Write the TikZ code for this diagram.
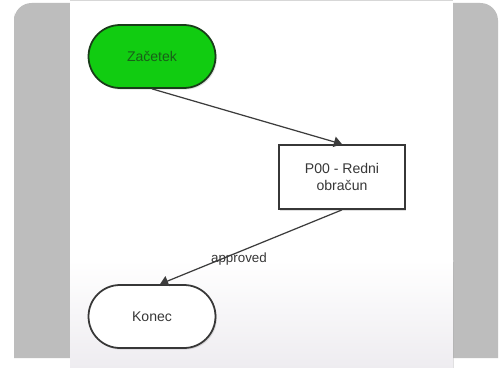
\documentclass[tikz,border=0pt]{standalone}
\usepackage{fontspec}
\setmainfont{Liberation Sans}
\usetikzlibrary{shapes.misc,arrows.meta,shadows}
\definecolor{framegrey}{RGB}{189,189,189}
\definecolor{startgreen}{RGB}{17,204,17}
\definecolor{startline}{RGB}{25,60,25}
\definecolor{starttext}{RGB}{25,95,25}
\definecolor{inkgrey}{RGB}{55,55,55}
\definecolor{lineink}{RGB}{60,60,60}
\definecolor{fadegrey}{RGB}{238,236,240}
\definecolor{edgegrey}{RGB}{215,215,215}
\begin{document}
\begin{tikzpicture}[x=0.02cm,y=-0.02cm,
  shade/.style={drop shadow={shadow xshift=0.8pt,shadow yshift=-0.9pt,opacity=0.25}},
  terminal/.style={rounded rectangle,draw=inkgrey,line width=1pt,minimum width=2.54cm,minimum height=1.26cm,inner sep=0pt,font=\fontsize{8}{9.5}\selectfont,text=inkgrey,shade},
  taskbox/.style={rectangle,draw=inkgrey,line width=1pt,fill=white,minimum width=2.52cm,minimum height=1.28cm,inner sep=0pt,align=center,font=\fontsize{8}{9.5}\selectfont,text=inkgrey,shade},
  flow/.style={draw=lineink,line width=0.7pt,-{Triangle[length=4.6pt,width=6pt]}},
  flowlabel/.style={font=\fontsize{7.6}{9}\selectfont,text=inkgrey,inner sep=0pt}]
\useasboundingbox (0,0) rectangle (500,368);
\fill[white] (0,0) rectangle (500,368);
\fill[framegrey] (14,358) -- (14,13) [rounded corners=10] -- (14,3) -- (498,3) [sharp corners] -- (498,358) -- cycle;
\fill[white] (70,0) rectangle (453,368);
\shade[top color=white,bottom color=fadegrey] (70,260) rectangle (453,368);
\draw[line width=0.6pt,edgegrey] (70,0.5) -- (453,0.5);
\node[terminal,fill=startgreen,draw=startline,text=starttext] (z) at (152,56.5) {Začetek};
\node[taskbox] (p) at (342,177) {P00 - Redni\\obračun};
\node[terminal,fill=white] (k) at (152,316.5) {Konec};
\draw[flow] (z.south) -- (p.north);
\draw[flow] (p.south) -- node[flowlabel,pos=0.566,yshift=-0.14cm] {approved} ([xshift=0.16cm]k.north);
\end{tikzpicture}
\end{document}
